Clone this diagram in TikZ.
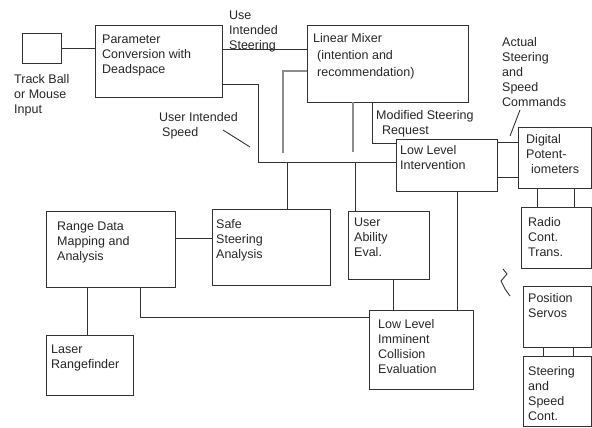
\documentclass[tikz,border=0pt]{standalone}
\usepackage{fontspec}
\setmainfont{Liberation Sans}
\usetikzlibrary{calc}
\tikzset{
    blk/.style={draw=black!80, line width=0.9pt, anchor=north west, inner sep=0pt, outer sep=0pt},
    txt/.style={anchor=north west, align=left, inner sep=0pt, text=black!85, font=\fontsize{12.5}{15}\selectfont},
    wire/.style={draw=black!80, line width=0.9pt},
    stub/.style={draw=black!45, line width=1.2pt}
}
\begin{document}
\begin{tikzpicture}[x=1pt, y=-1pt]
    \useasboundingbox (0,0) rectangle (592,428);

    % boxes: name/left/top/width/height
    \foreach \name/\x/\y/\w/\h in {
        ball/22/33/39/30,
        param/95/25/127/72,
        mixer/307/25/161/77,
        lli/396/139/101/52,
        pot/518/127/73/61,
        radio/521/207/70/61,
        range/46/211/129/76,
        safe/212/209/118/76,
        ability/348/211/81/68,
        laser/46/335/87/60,
        imm/369/310/104/79,
        servo/523/286/68/61,
        cont/523/356/68/70}
    {
        \node[blk, minimum width=\w pt, minimum height=\h pt] (\name) at (\x,\y) {};
    }

    % texts
    \node[txt] (balltxt) at (14,74) {Track Ball\\or Mouse\\Input};
    \node[txt] (paramtxt) at (102,35) {Parameter\\Conversion with\\Deadspace};
    \node[txt] (steertxt) at (229,11) {Use\\Intended\\Steering};
    \node[txt] (mixertxt) at (313,33) {Linear Mixer};
    \node[txt, font=\fontsize{12.5}{17}\selectfont] (mixersub) at (317,50) {(intention and\\recommendation)};
    \node[txt] (speedtxt) at (159,112) {User Intended\\\hspace*{3pt}Speed};
    \node[txt] (modtxt) at (376,110) {Modified Steering\\\hspace*{6pt}Request};
    \node[txt] (acttxt) at (502,37) {Actual\\Steering\\and\\Speed\\Commands};
    \node[txt] (llitxt) at (400,145) {Low Level\\Intervention};
    \node[txt] (pottxt) at (526,134) {Digital\\Potent-\\\hspace*{5pt}iometers};
    \node[txt] (radiotxt) at (528,217) {Radio\\Cont.\\Trans.};
    \node[txt] (rangetxt) at (57,222) {Range Data\\Mapping and\\Analysis};
    \node[txt] (safetxt) at (216,219) {Safe\\Steering\\Analysis};
    \node[txt] (abilitytxt) at (354,218) {User\\Ability\\Eval.};
    \node[txt] (lasertxt) at (51,345) {Laser\\Rangefinder};
    \node[txt] (immtxt) at (378,319) {Low Level\\Imminent\\Collision\\Evaluation};
    \node[txt] (servotxt) at (528,293) {Position\\Servos};
    \node[txt] (conttxt) at (528,366) {Steering\\and\\Speed\\Cont.};

    % bus points
    \coordinate (busL) at (258,162);
    \coordinate (busS) at (287,162);
    \coordinate (busA) at (355,162);

    % top row
    \draw[wire] (ball.east) -- (ball.east -| param.west);
    \draw[wire] ($(param.north east)+(0,24)$) -- ($(mixer.north west)+(0,24)$);
    \draw[wire] ($(param.north east)+(0,59)$) -| (busL) -- (busL -| lli.west);
    \draw[wire] (busS) -- (busS |- safe.north);
    \draw[wire] (busA) -- (busA |- ability.north);

    % loose ends under the mixer
    \draw[stub] ($(mixer.north west)+(0,46)$) -| (283,153);
    \draw[stub] ($(mixer.south west)+(46,0)$) -- ++(0,50);

    % modified steering request
    \draw[wire] ($(mixer.south west)+(65,0)$) |- ($(lli.north west)+(0,4)$);

    % intervention <-> potentiometers
    \coordinate (p1) at ($(lli.north east)+(0,3)$);
    \coordinate (p2) at ($(pot.north west)+(0,50)$);
    \draw[wire] (p1) -- (p1 -| pot.west);
    \draw[wire] (p2) -- (p2 -| lli.east);
    \foreach \dx in {19,56}
    {
        \coordinate (t) at ($(pot.south west)+(\dx,0)$);
        \draw[wire] (t) -- (t |- radio.north);
    }
    \foreach \dx in {20,50}
    {
        \coordinate (t) at ($(servo.south west)+(\dx,0)$);
        \draw[wire] (t) -- (t |- cont.north);
    }

    % lower part
    \coordinate (r1) at ($(range.north east)+(0,27)$);
    \coordinate (r2) at ($(range.south west)+(41,0)$);
    \coordinate (r3) at ($(range.south west)+(94,0)$);
    \draw[wire] (r1) -- (r1 -| safe.west);
    \draw[wire] (r2) -- (r2 |- laser.north);
    \draw[wire] (r3) |- ($(imm.north west)+(0,7)$);
    \coordinate (a1) at ($(ability.south west)+(45,0)$);
    \coordinate (l1) at ($(lli.south west)+(61,0)$);
    \draw[wire] (a1) -- (a1 |- imm.north);
    \draw[wire] (l1) -- (l1 |- imm.north);

    % leaders and break mark
    \draw[wire] (223,130) -- (250,147);
    \draw[wire] (520,110) -- (510,136);
    \draw[wire] (503,269) -- (507,274) -- (501,281) -- (505,289) -- (510,296);
\end{tikzpicture}
\end{document}
